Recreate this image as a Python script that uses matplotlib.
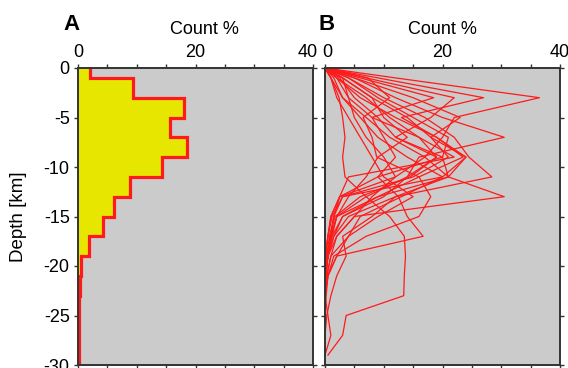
import numpy as np
import matplotlib
matplotlib.use("Agg")
import matplotlib.pyplot as plt
import matplotlib.transforms as mtransforms

plt.rcParams['font.family'] = ['Liberation Sans', 'DejaVu Sans']

# panel A: depth histogram (bin edges in km, count %)
bin_edges = [0, -1, -3, -5, -7, -9, -11, -13, -15, -17, -19, -21, -23, -30]
counts = [2.0, 9.4, 18.0, 15.7, 18.6, 14.3, 8.8, 6.1, 4.3, 1.9, 0.5, 0.3, 0.15]

# panel B: individual depth profiles (count % at each depth)
depths = [0, -1, -3, -5, -7, -9, -11, -13, -15, -17, -19, -21, -23, -25, -27, -29]
profiles = [
    [0, 12, 36.5, 22, 20, 17, 12, 2.5, 1.5, 1, 0.5, 0.2, 0, 0, 0, 0],
    [0, 9, 27, 13, 19, 24, 20, 3, 1.5, 0.8, 0.3, 0, 0, 0, 0, 0],
    [0, 7, 22, 18, 12, 20, 21, 9, 2, 1, 0.5, 0, 0, 0, 0, 0],
    [0, 6, 18.5, 8, 16, 22, 4, 2.5, 1, 0.5, 0, 0, 0, 0, 0, 0],
    [0, 7.3, 11, 6.5, 8, 8.8, 16, 9, 3, 1.5, 0.5, 0, 0, 0, 0, 0],
    [0, 5, 12, 20, 30.5, 16, 14, 7, 2, 1, 0.3, 0, 0, 0, 0, 0],
    [0, 4, 10, 17, 22, 24.5, 28.4, 12, 4, 1.5, 0.5, 0, 0, 0, 0, 0],
    [0, 3, 8, 14, 18, 24, 21, 30.5, 5, 2, 1, 0.3, 0, 0, 0, 0],
    [0, 2, 6, 12, 19, 23.5, 16, 18, 16, 7, 1.5, 0.5, 0, 0, 0, 0],
    [0, 1, 2.4, 3, 3.4, 3, 3.4, 7, 11, 13.5, 13.7, 13.5, 13.4, 3.6, 3, 0.5],
    [0, 3, 4, 8, 10, 12, 9, 12.5, 14, 16.7, 2, 0.5, 0, 0, 0, 0],
    [0, 2.5, 5, 9, 12, 19, 14, 10, 3, 1.2, 0.4, 0, 0, 0, 0, 0],
    [0, 1.5, 3, 6, 9, 14, 20, 13, 6, 4, 1, 0.3, 0, 0, 0, 0],
    [0, 2, 7, 11, 16, 19, 14.5, 6, 1.7, 0.8, 0.3, 0, 0, 0, 0, 0],
    [0, 4, 9, 15, 21, 20, 9, 2.5, 1, 0.5, 0.2, 0, 0, 0, 0, 0],
    [0, 1, 3, 7, 11, 17, 21, 12, 8, 3, 3.6, 2, 1, 0.3, 0, 0],
    [0, 3, 8, 10, 14, 9, 7, 4, 2, 1.2, 0.5, 0.2, 0, 0, 0, 0],
    [0, 5, 15, 23, 18, 21, 15, 3, 1.2, 0.5, 0, 0, 0, 0, 0, 0],
    [0, 2, 4, 5, 7, 10, 12, 8, 5, 2, 0.5, 0, 0, 0.5, 1, 0],
    [0, 1, 2, 4, 6, 8, 10, 15, 9, 4, 2, 0.5, 0.2, 0, 0, 0],
]

bg = '#cbcbcb'
red = '#ff1a1a'

fig = plt.figure(figsize=(5.68, 3.68), dpi=100)
axA = fig.add_axes([78 / 568, 3 / 368, 235 / 568, 297 / 368])
axB = fig.add_axes([325 / 568, 3 / 368, 235 / 568, 297 / 368])

axA.stairs(counts, bin_edges, orientation='horizontal', fill=True,
           color='#e6e600', baseline=0)
axA.stairs(counts, bin_edges, orientation='horizontal', baseline=None,
           color=red, linewidth=2.3)

for p in profiles:
    axB.plot(p, depths, color=red, linewidth=0.9)

for ax in (axA, axB):
    ax.set_facecolor(bg)
    ax.set_xlim(0, 40)
    ax.set_ylim(-30, 0)
    ax.xaxis.tick_top()
    ax.set_xticks(np.arange(0, 41, 5))
    ax.set_xticklabels(['0', '', '', '', '20', '', '', '', '40'])
    ax.set_yticks(np.arange(-30, 1, 5))
    ax.tick_params(axis='x', which='both', top=True, bottom=True,
                   direction='out', length=3, width=1, color='#333333',
                   labelsize=13, pad=2)
    ax.tick_params(axis='y', which='both', left=True, right=True,
                   direction='out', length=3, width=1, color='#333333',
                   labelsize=13, pad=3)
    for s in ax.spines.values():
        s.set_linewidth(1.4)
        s.set_color('#333333')
    ax.xaxis.set_label_position('top')
    ax.set_xlabel('Count %', fontsize=13)

axA.xaxis.set_label_coords(0.54, 1.115)
axB.xaxis.set_label_coords(0.5, 1.115)
axA.set_yticklabels(['-30', '-25', '-20', '-15', '-10', '-5', '0'])
axB.set_yticklabels([])
axA.set_ylabel('Depth [km]', fontsize=13.5)
axA.yaxis.set_label_coords(-0.215, 0.5)

# nudge the crowded "40" / "0" labels apart like the original
fig.canvas.draw()
lblA = axA.get_xticklabels()[-1]
lblA.set_transform(lblA.get_transform() + mtransforms.ScaledTranslation(-5 / 100, 0, fig.dpi_scale_trans))
lblB = axB.get_xticklabels()[0]
lblB.set_transform(lblB.get_transform() + mtransforms.ScaledTranslation(2 / 100, 0, fig.dpi_scale_trans))

fig.text(63 / 568, 1 - 25 / 368, 'A', fontsize=16, fontweight='bold', va='center')
fig.text(319 / 568, 1 - 24 / 368, 'B', fontsize=16, fontweight='bold', va='center')

fig.savefig('out.png', dpi=100)
